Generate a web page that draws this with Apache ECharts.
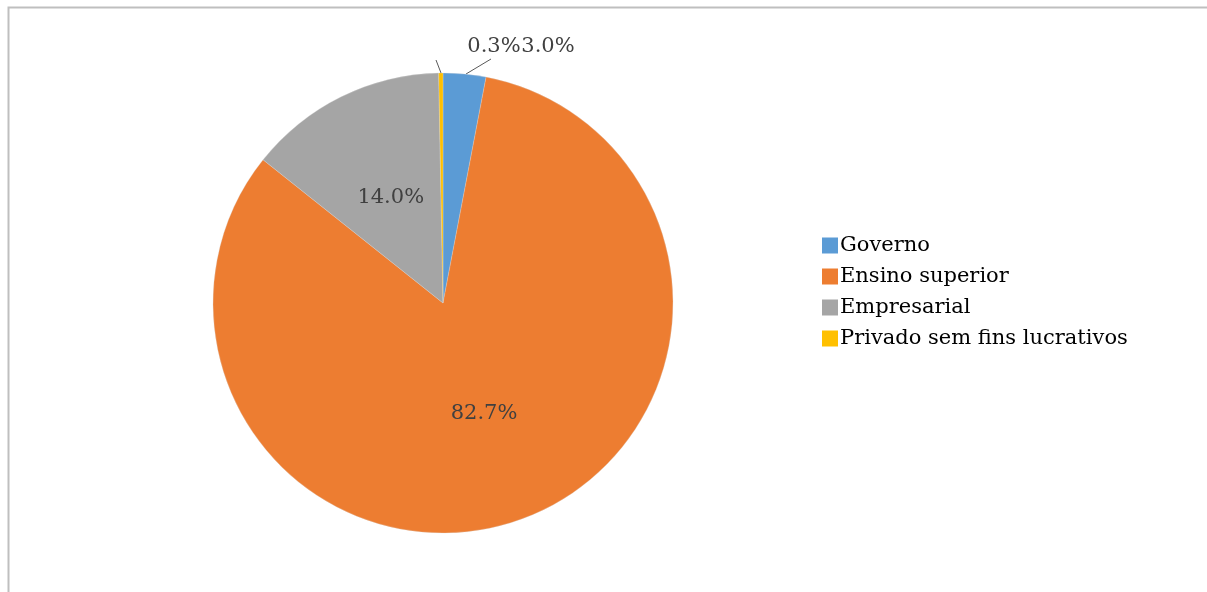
<!DOCTYPE html>
<html>
<head>
<meta charset="UTF-8"/>
<title>pie</title>
<script src="https://cdn.jsdelivr.net/npm/echarts@6/dist/echarts.min.js"></script>
<style>
  html, body { margin: 0; padding: 0; background: #fff; }
  #main { width: 1207px; height: 592px; }
</style>
</head>
<body>
<div id="main"></div>
<script>
// setores e percentuais
var categories = ['Governo', 'Ensino superior', 'Empresarial', 'Privado sem fins lucrativos'];
var values = [3.0, 82.7, 14.0, 0.3];
var colors = ['#5b9bd5', '#ed7d31', '#a5a5a5', '#ffc000'];

var serif = '"DejaVu Serif", "Liberation Serif", serif';

var pieData = [];
for (var i = 0; i < categories.length; i++) {
    var small = values[i] < 5;
    pieData.push({
        name: categories[i],
        value: values[i],
        itemStyle: { color: colors[i] },
        label: { position: small ? 'outside' : 'inside' },
        labelLine: { show: small }
    });
}

var chart = echarts.init(document.getElementById('main'));
chart.setOption({
    animation: false,
    backgroundColor: '#fff',
    title: {
        // titulo cortado no topo da imagem
        text: 'Distribuição dos pesquisadores por setor (2010))',
        left: 20,
        top: -27,
        textStyle: { fontFamily: '"Liberation Serif", serif', fontSize: 22, fontWeight: 'bold', color: '#000' }
    },
    graphic: [{
        type: 'rect',
        shape: { x: 8.5, y: 7.5, width: 1400, height: 800 },
        style: { fill: 'none', stroke: '#bfbfbf', lineWidth: 2 },
        z: -1
    }],
    legend: {
        orient: 'vertical',
        left: 817,
        top: 230,
        itemWidth: 16,
        itemHeight: 16,
        itemGap: 10,
        icon: 'rect',
        data: categories,
        itemStyle: { borderWidth: 0 },
        textStyle: { fontFamily: serif, fontSize: 21, color: '#000', padding: [0, 0, 0, -3] }
    },
    series: [{
        type: 'pie',
        center: [443, 303],
        radius: 230,
        startAngle: 90,
        clockwise: true,
        avoidLabelOverlap: false,
        itemStyle: { borderColor: '#d9d9d9', borderWidth: 0.3 },
        emphasis: { disabled: true },
        label: {
            formatter: function (p) { return p.value.toFixed(1) + '%'; },
            fontFamily: serif,
            fontSize: 21,
            color: '#404040'
        },
        labelLine: {
            lineStyle: { color: '#595959', width: 1 }
        },
        labelLayout: function (p) {
            if (p.dataIndex === 0) {
                return { x: 548, y: 47, align: 'center', verticalAlign: 'middle',
                         labelLinePoints: [[466, 74], [466, 74], [491, 59]] };
            }
            if (p.dataIndex === 3) {
                return { x: 494, y: 47, align: 'center', verticalAlign: 'middle',
                         labelLinePoints: [[441, 73], [441, 73], [436, 60]] };
            }
        },
        data: pieData
    }]
});
</script>
</body>
</html>
